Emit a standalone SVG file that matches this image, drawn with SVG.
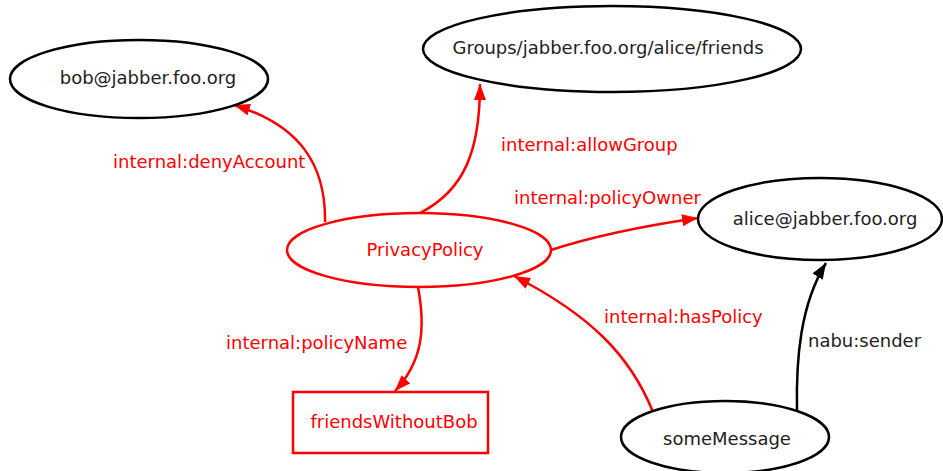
<svg xmlns="http://www.w3.org/2000/svg" width="943" height="471" viewBox="0 0 943 471">
  <style>
    .node { fill: #fff; stroke: #000; stroke-width: 2.5; }
    .node.red { stroke: #f00; }
    .lbl { font-family: "DejaVu Sans", sans-serif; font-size: 18px; fill: #222; }
    .lbl.red { fill: #f00; }
    .edge { fill: none; stroke-width: 2.5; }
    .edge.red { stroke: #f00; }
    .edge.black { stroke: #000; }
  </style>
  <defs>
    <marker id="arrRed" viewBox="0 0 16 12" refX="16" refY="6" markerWidth="16" markerHeight="12" markerUnits="userSpaceOnUse" orient="auto">
      <path d="M0,0 L16,6 L0,12 Z" fill="#f00"/>
    </marker>
    <marker id="arrBlack" viewBox="0 0 16 12" refX="16" refY="6" markerWidth="16" markerHeight="12" markerUnits="userSpaceOnUse" orient="auto">
      <path d="M0,0 L16,6 L0,12 Z" fill="#000"/>
    </marker>
  </defs>

  <!-- connectors -->
  <g id="edges">
    <path class="edge red" d="M325,222 C326,165 300,125 234,105" marker-end="url(#arrRed)"/>
    <path class="edge red" d="M420,213 C465,190 480,150 480,84" marker-end="url(#arrRed)"/>
    <path class="edge red" d="M551,250 C600,234 650,225 698,218" marker-end="url(#arrRed)"/>
    <path class="edge red" d="M653,412 C630,355 590,315 514,276" marker-end="url(#arrRed)"/>
    <path class="edge red" d="M418,287 C426,330 422,362 395,391" marker-end="url(#arrRed)"/>
    <path class="edge black" d="M797,410 C796,360 800,305 826,263" marker-end="url(#arrBlack)"/>
  </g>

  <!-- edge labels -->
  <g id="edge-labels">
    <text class="lbl red" x="113" y="168">internal:denyAccount</text>
    <text class="lbl red" x="501" y="151">internal:allowGroup</text>
    <text class="lbl red" x="514" y="204">internal:policyOwner</text>
    <text class="lbl red" x="604" y="323">internal:hasPolicy</text>
    <text class="lbl red" x="226" y="349">internal:policyName</text>
    <text class="lbl" x="808" y="347">nabu:sender</text>
  </g>

  <g id="bob">
    <ellipse class="node" cx="139" cy="79" rx="129" ry="39"/>
    <text class="lbl" x="148" y="84" text-anchor="middle">bob@jabber.foo.org</text>
  </g>
  <g id="groups">
    <ellipse class="node" cx="612" cy="49" rx="189" ry="43"/>
    <text class="lbl" x="608" y="54" text-anchor="middle">Groups/jabber.foo.org/alice/friends</text>
  </g>
  <g id="alice">
    <ellipse class="node" cx="820" cy="219" rx="122" ry="41"/>
    <text class="lbl" x="825" y="225" text-anchor="middle">alice@jabber.foo.org</text>
  </g>
  <g id="privacyPolicy">
    <ellipse class="node red" cx="419" cy="250" rx="132" ry="37"/>
    <text class="lbl red" x="425" y="256" text-anchor="middle">PrivacyPolicy</text>
  </g>
  <g id="friendsWithoutBob">
    <rect class="node red" x="293" y="392" width="195" height="61"/>
    <text class="lbl red" x="394" y="428" text-anchor="middle">friendsWithoutBob</text>
  </g>
  <g id="someMessage">
    <ellipse class="node" cx="725" cy="437" rx="104" ry="36"/>
    <text class="lbl" x="727" y="445" text-anchor="middle">someMessage</text>
  </g>
</svg>
